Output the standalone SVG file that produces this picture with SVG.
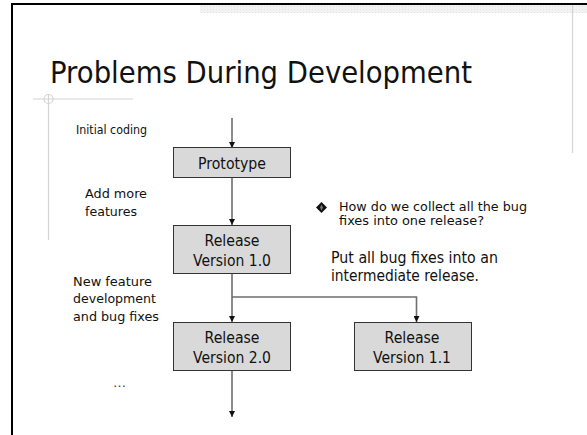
<svg xmlns="http://www.w3.org/2000/svg" width="587" height="435" viewBox="0 0 587 435">
<defs>
<marker id="arr" viewBox="0 0 10 10" refX="10" refY="5" markerWidth="6" markerHeight="6" markerUnits="userSpaceOnUse" orient="auto">
<path d="M0,0 L10,5 L0,10 z" fill="#111"/>
</marker>
<pattern id="dots" width="3" height="3" patternUnits="userSpaceOnUse">
<rect width="3" height="3" fill="#f2f2f2"/>
<rect width="1" height="1" fill="#e2e2e2"/>
</pattern>
</defs>
<style>
text{font-family:"DejaVu Sans","Liberation Sans",sans-serif;fill:#111}
.box{fill:#d9d9d9;stroke:#333;stroke-width:1}
.lbl{font-size:13px}
.bt{font-size:15px;text-anchor:middle}
.conn{fill:none;stroke:#6e6e6e;stroke-width:1.6}
.deco{stroke:#d4d4d4;stroke-width:1.2;fill:none}
</style>
<rect width="587" height="435" fill="#fff"/>
<rect x="200" y="5" width="387" height="8" fill="url(#dots)"/>
<line x1="572.5" y1="5" x2="572.5" y2="153" class="deco"/>
<line x1="11" y1="4" x2="587" y2="4" stroke="#000" stroke-width="2"/>
<line x1="12" y1="3" x2="12" y2="435" stroke="#000" stroke-width="2"/>
<line x1="33" y1="99" x2="133" y2="99" class="deco"/>
<line x1="48.5" y1="94" x2="48.5" y2="240" class="deco"/>
<circle cx="48.5" cy="99" r="4.5" class="deco"/>
<text x="50" y="83" font-size="31" textLength="422" lengthAdjust="spacingAndGlyphs">Problems During Development</text>
<g id="labels">
<text class="lbl" x="76" y="134" textLength="71" lengthAdjust="spacingAndGlyphs">Initial coding</text>
<text class="lbl" x="85" y="198" textLength="62" lengthAdjust="spacingAndGlyphs">Add more</text>
<text class="lbl" x="85" y="216" textLength="52" lengthAdjust="spacingAndGlyphs">features</text>
<text class="lbl" x="73" y="286" textLength="79" lengthAdjust="spacingAndGlyphs">New feature</text>
<text class="lbl" x="73" y="303" textLength="83" lengthAdjust="spacingAndGlyphs">development</text>
<text class="lbl" x="73" y="321" textLength="86" lengthAdjust="spacingAndGlyphs">and bug fixes</text>
<text class="lbl" x="113" y="387" style="fill:#444">…</text>
</g>
<g id="bullet">
<polygon points="321.5,202 327,207.5 321.5,213 316,207.5" fill="#111"/>
<polygon points="321.5,204.5 323,207.5 321.5,210.5 320,207.5" fill="#777"/>
<text x="339" y="211" font-size="12" textLength="188" lengthAdjust="spacingAndGlyphs">How do we collect all the bug</text>
<text x="339" y="225" font-size="12" textLength="145" lengthAdjust="spacingAndGlyphs">fixes into one release?</text>
<text x="331" y="263" font-size="15" textLength="167" lengthAdjust="spacingAndGlyphs">Put all bug fixes into an</text>
<text x="331" y="281" font-size="15" textLength="148" lengthAdjust="spacingAndGlyphs">intermediate release.</text>
</g>
<g id="connectors">
<line x1="232" y1="118" x2="232" y2="148" class="conn" marker-end="url(#arr)"/>
<line x1="232" y1="177" x2="232" y2="225" class="conn" marker-end="url(#arr)"/>
<line x1="232" y1="273" x2="232" y2="322" class="conn" marker-end="url(#arr)"/>
<polyline points="232,297 416.5,297 416.5,322" class="conn" marker-end="url(#arr)"/>
<line x1="232" y1="370" x2="232" y2="417" class="conn" marker-end="url(#arr)"/>
</g>
<g id="prototype">
<rect x="173.5" y="147.5" width="117" height="30" class="box"/>
<text class="bt" x="232" y="169" textLength="68" lengthAdjust="spacingAndGlyphs">Prototype</text>
</g>
<g id="release10">
<rect x="173.5" y="225.5" width="117" height="48" class="box"/>
<text class="bt" x="232" y="246" textLength="55" lengthAdjust="spacingAndGlyphs">Release</text>
<text class="bt" x="232" y="266" textLength="78" lengthAdjust="spacingAndGlyphs">Version 1.0</text>
</g>
<g id="release20">
<rect x="173.5" y="322.5" width="117" height="48" class="box"/>
<text class="bt" x="232" y="343" textLength="55" lengthAdjust="spacingAndGlyphs">Release</text>
<text class="bt" x="232" y="363" textLength="78" lengthAdjust="spacingAndGlyphs">Version 2.0</text>
</g>
<g id="release11">
<rect x="354.5" y="322.5" width="117" height="48" class="box"/>
<text class="bt" x="412" y="343" textLength="55" lengthAdjust="spacingAndGlyphs">Release</text>
<text class="bt" x="412" y="363" textLength="78" lengthAdjust="spacingAndGlyphs">Version 1.1</text>
</g>
</svg>
